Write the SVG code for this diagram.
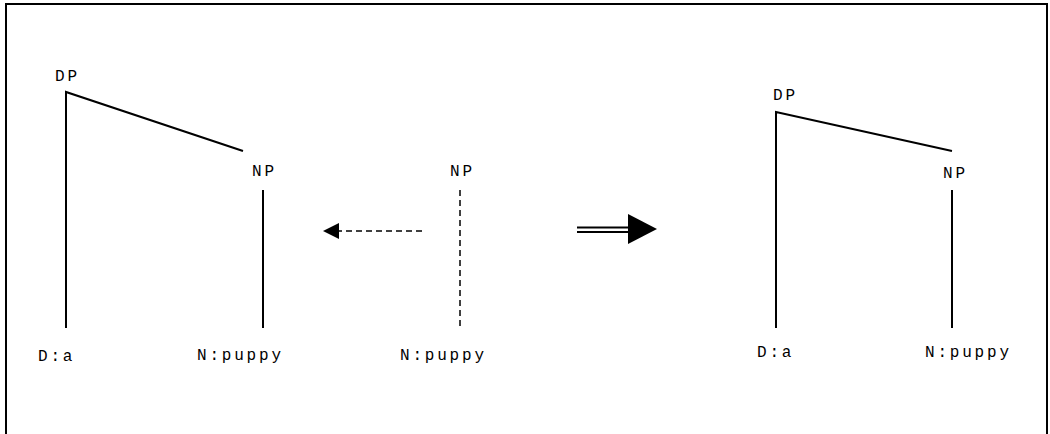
<svg xmlns="http://www.w3.org/2000/svg" width="1050" height="434" viewBox="0 0 1050 434">
<style>
.t{font-family:"Liberation Mono","Courier New",monospace;font-size:16px;letter-spacing:2.8px;fill:#000}
.e{stroke:#000;stroke-width:2;fill:none}
.d{stroke:#000;stroke-width:1.5;fill:none;stroke-dasharray:6 4}
</style>
<rect x="0" y="0" width="1050" height="434" fill="#fff"/>
<rect x="6" y="4" width="1041" height="440" fill="none" stroke="#000" stroke-width="2"/>
<g id="connectors">
<polyline class="e" points="243,151 66,92 66,328"/>
<line class="e" x1="263" y1="190" x2="263" y2="328"/>
<line class="d" x1="460" y1="190" x2="460" y2="328"/>
<line class="d" x1="422" y1="231" x2="338" y2="231"/>
<path d="M323,231 L339,223 L339,239 Z" fill="#000"/>
<line class="e" x1="577" y1="227.5" x2="630" y2="227.5" stroke-width="1.5"/>
<line class="e" x1="577" y1="232" x2="630" y2="232" stroke-width="1.5"/>
<path d="M628,214 L657,229 L628,244 Z" fill="#000"/>
<polyline class="e" points="952,151 776,112 776,328"/>
<line class="e" x1="952" y1="190" x2="952" y2="328"/>
</g>
<g id="dp-left"><text class="t" x="55" y="81">DP</text></g>
<g id="np-left"><text class="t" x="252" y="176">NP</text></g>
<g id="d-left"><text class="t" x="38" y="361">D:a</text></g>
<g id="n-left"><text class="t" x="197" y="360">N:puppy</text></g>
<g id="np-mid"><text class="t" x="450" y="176">NP</text></g>
<g id="n-mid"><text class="t" x="400" y="360">N:puppy</text></g>
<g id="dp-right"><text class="t" x="773" y="100">DP</text></g>
<g id="np-right"><text class="t" x="943" y="178">NP</text></g>
<g id="d-right"><text class="t" x="757" y="357">D:a</text></g>
<g id="n-right"><text class="t" x="925" y="357">N:puppy</text></g>
</svg>
